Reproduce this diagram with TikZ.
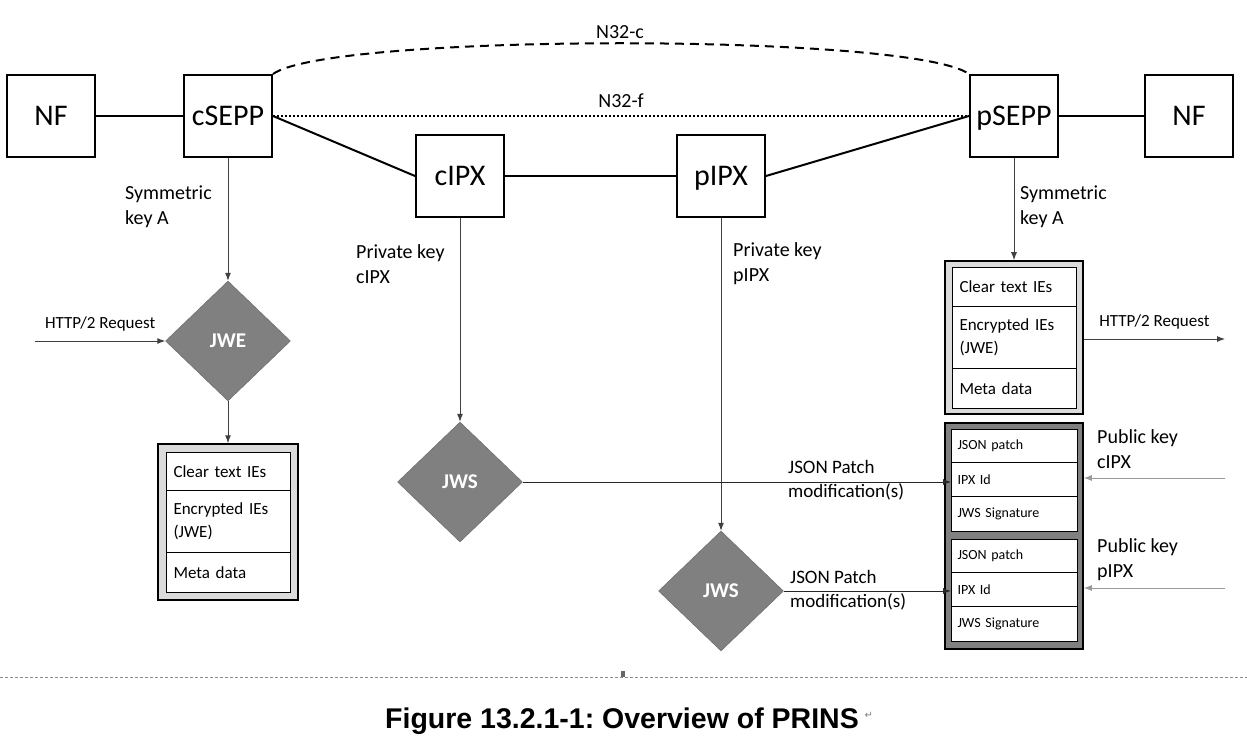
\documentclass[tikz,border=0pt]{standalone}
\usepackage{fontspec}
\setmainfont{Carlito}
\newfontfamily\capfont{Liberation Sans}
\newfontfamily\symfont{DejaVu Sans}
\usetikzlibrary{shapes.geometric,arrows.meta}
\frenchspacing

\begin{document}
\begin{tikzpicture}[x=1pt, y=-1pt,
    box/.style={draw, line width=2pt, minimum width=88pt, minimum height=82pt, inner sep=0pt, text height=20pt, text depth=0pt, font=\fontsize{30}{34}\selectfont},
    gate/.style={diamond, draw=black!60, fill=black!50, minimum width=125pt, minimum height=120pt, inner sep=0pt, text=white, font=\fontsize{21}{24}\selectfont\bfseries},
    frame/.style={draw, line width=1.5pt, fill=black!14, inner sep=0pt},
    row/.style={draw, line width=1pt, fill=white, anchor=north west, minimum width=124pt, text width=110pt, inner xsep=7pt, inner ysep=0pt, align=left, font=\fontsize{17}{23}\selectfont},
    smallrow/.style={row, minimum width=126pt, text width=114pt, inner xsep=6pt, font=\fontsize{14}{16}\selectfont},
    lbl/.style={align=left, anchor=west, inner sep=0pt, font=\fontsize{20}{25}\selectfont},
    link/.style={line width=2pt},
    key/.style={-{Latex[length=8pt,width=6pt]}, line width=1pt, draw=black!75}]

    \useasboundingbox (0,0) rectangle (1247,751);

    % Network functions, SEPPs and IPXs
    \node[box] (nfl)   at (51,116)   {NF};
    \node[box] (csepp) at (228,116)  {cSEPP};
    \node[box] (cipx)  at (460,176)  {cIPX};
    \node[box] (pipx)  at (721,176)  {pIPX};
    \node[box] (psepp) at (1014,116) {pSEPP};
    \node[box] (nfr)   at (1189,116) {NF};

    % Links between them
    \draw[link] (nfl) -- (csepp);
    \draw[link] (csepp.east) -- (cipx.west);
    \draw[link] (cipx) -- (pipx);
    \draw[link] (pipx.east) -- (psepp.west);
    \draw[link] (psepp) -- (nfr);
    \draw[link, dash pattern=on 2pt off 2pt] (csepp.east) -- node[above=7pt, lbl, anchor=south] (n32f) {N32-f} (psepp.west);
    \draw[link, dash pattern=on 9pt off 6pt] (csepp.north east) .. controls (330,33) and (912,33) .. (psepp.north west);
    \node[lbl, anchor=center] (n32c) at (620,32) {N32-c};

    % Sending side: JWE
    \node[gate] (jwe) at (228,341) {JWE};
    \coordinate (reqin) at (35,341);
    \draw[key] (reqin) -- node[above=9pt, lbl, anchor=south, font=\fontsize{17}{20}\selectfont] (reql) {HTTP/2 Request} (jwe.west);
    \draw[key] (csepp.south) -- (jwe.north);
    \node[lbl] (skl) at (125,207) {Symmetric\\key A};

    \node[frame, minimum width=140pt, minimum height=156pt] (lframe) at (228,522) {};
    \node[row, minimum height=38pt] (l1) at (166,452) {Clear text IEs};
    \node[row, minimum height=62pt] (l2) at (166,490) {Encrypted IEs\\(JWE)};
    \node[row, minimum height=40pt] (l3) at (166,552) {Meta data};
    \draw[key] (jwe.south) -- (lframe.north);

    % IPX signatures: JWS
    \node[gate] (jws1) at (460,482) {JWS};
    \node[gate] (jws2) at (721,591) {JWS};
    \draw[key] (cipx.south) -- (jws1.north);
    \draw[key] (pipx.south) -- (jws2.north);
    \node[lbl] (pkc) at (356,264) {Private key\\cIPX};
    \node[lbl] (pkp) at (733,264) {Private key\\pIPX};

    % Receiving side
    \node[frame, minimum width=138pt, minimum height=153pt] (rframe) at (1014,337.5) {};
    \node[row, minimum height=39pt] (r1) at (952,267) {Clear text IEs};
    \node[row, minimum height=62pt] (r2) at (952,306) {Encrypted IEs\\(JWE)};
    \node[row, minimum height=40pt] (r3) at (952,368) {Meta data};
    \draw[key] (psepp.south) -- (rframe.north);
    \node[lbl] (skr) at (1020,207) {Symmetric\\key A};
    \coordinate (reqout) at (1225,339);
    \draw[key] (rframe.east |- reqout) -- node[above=9pt, lbl, anchor=south, font=\fontsize{17}{20}\selectfont] (reqr) {HTTP/2 Request} (reqout);

    % Signed patches
    \node[frame, fill=black!50, minimum width=138pt, minimum height=226pt] (sframe) at (1014,536) {};
    \node[smallrow, minimum height=33pt] (c1) at (951,429) {JSON patch};
    \node[smallrow, minimum height=34pt] (c2) at (951,462) {IPX Id};
    \node[smallrow, minimum height=35pt] (c3) at (951,496) {JWS Signature};
    \node[smallrow, minimum height=33pt] (p1) at (951,539) {JSON patch};
    \node[smallrow, minimum height=34pt] (p2) at (951,572) {IPX Id};
    \node[smallrow, minimum height=35pt] (p3) at (951,606) {JWS Signature};

    \draw[key, draw=black!85] (jws1.east) -- (jws1.east -| c2.west);
    \draw[key, draw=black!85] (jws2.east) -- (jws2.east -| p2.west);
    \node[lbl, font=\fontsize{19}{24}\selectfont] (jpc) at (788,480) {JSON Patch\\modification(s)};
    \node[lbl, font=\fontsize{19}{24}\selectfont] (jpp) at (790,590) {JSON Patch\\modification(s)};

    \coordinate (pubc) at (1225,478);
    \coordinate (pubp) at (1225,588);
    \draw[key, draw=black!40] (pubc) -- (sframe.east |- pubc);
    \draw[key, draw=black!40] (pubp) -- (sframe.east |- pubp);
    \node[lbl] (kc) at (1097,449) {Public key\\cIPX};
    \node[lbl] (kp) at (1097,560) {Public key\\pIPX};

    % Page rule and caption
    \coordinate (rulel) at (0,677);
    \coordinate (ruler) at (1247,677);
    \draw[black!45, line width=1pt, dash pattern=on 3pt off 2pt] (rulel) -- (ruler);
    \fill[black!60] (621,671) rectangle (625,677);
    \node[font=\capfont\bfseries\fontsize{28.5}{32}\selectfont] (cap) at (622,721) {Figure 13.2.1-1: Overview of PRINS};
    \node[anchor=west, inner sep=2pt, text=black!50, font=\symfont\fontsize{10}{12}\selectfont] (ret) at ([yshift=6pt]cap.east) {↵};
\end{tikzpicture}
\end{document}
